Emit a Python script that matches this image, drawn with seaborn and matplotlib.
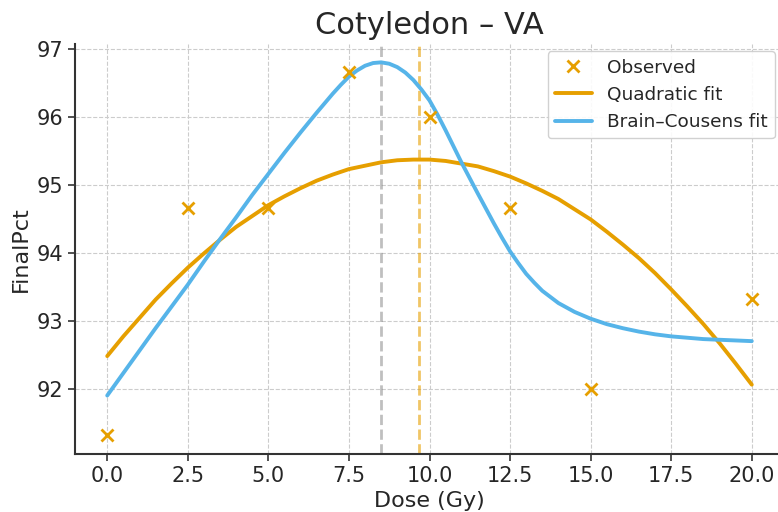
import matplotlib
matplotlib.use("Agg")
import matplotlib.pyplot as plt
import seaborn as sns
import pandas as pd

# Observed data
dose = [0.0, 2.5, 5.0, 7.5, 10.0, 12.5, 15.0, 20.0]
final_pct = [91.33, 94.67, 94.67, 96.67, 96.00, 94.67, 92.00, 93.33]

# Quadratic fit curve
quad_x = [0, 0.5, 1, 1.5, 2, 2.5, 3, 3.5, 4, 4.5, 5, 5.5, 6, 6.5, 7, 7.5, 8, 8.5,
          9, 9.5, 10, 10.5, 11, 11.5, 12, 12.5, 13, 13.5, 14, 14.5, 15, 15.5, 16,
          16.5, 17, 17.5, 18, 18.5, 19, 19.5, 20]
quad_y = [92.49, 92.78, 93.05, 93.32, 93.56, 93.79, 94.00, 94.20, 94.39, 94.55,
          94.71, 94.84, 94.96, 95.07, 95.16, 95.24, 95.29, 95.34, 95.37, 95.38,
          95.38, 95.36, 95.32, 95.28, 95.21, 95.13, 95.03, 94.92, 94.80, 94.65,
          94.50, 94.32, 94.13, 93.93, 93.71, 93.47, 93.22, 92.96, 92.68, 92.38, 92.07]

# Brain–Cousens fit curve
bc_x = [0, 0.5, 1, 1.5, 2, 2.5, 3, 3.5, 4, 4.5, 5, 5.5, 6, 6.5, 6.75, 7, 7.25,
        7.5, 7.75, 8, 8.25, 8.5, 8.75, 9, 9.25, 9.5, 9.75, 10, 10.25, 10.5,
        10.75, 11, 11.5, 12, 12.25, 12.5, 12.75, 13, 13.25, 13.5, 14, 14.5, 15,
        15.5, 16, 16.5, 17, 17.5, 18, 18.5, 19, 19.5, 20]
bc_y = [91.91, 92.24, 92.57, 92.90, 93.22, 93.54, 93.88, 94.21, 94.53, 94.86,
        95.17, 95.48, 95.78, 96.07, 96.21, 96.35, 96.48, 96.60, 96.69, 96.76,
        96.80, 96.81, 96.79, 96.74, 96.66, 96.55, 96.41, 96.25, 96.04, 95.81,
        95.57, 95.33, 94.88, 94.44, 94.23, 94.03, 93.86, 93.70, 93.57, 93.45,
        93.27, 93.14, 93.04, 92.96, 92.90, 92.85, 92.81, 92.78, 92.76, 92.74,
        92.73, 92.72, 92.71]

# Optimum markers
bc_opt = 8.5
quad_opt = 9.66

ORANGE = "#E69F00"
BLUE = "#56B4E9"

sns.set_style("whitegrid", {"grid.linestyle": "--", "grid.color": "#cccccc",
                            "axes.edgecolor": "#333333"})
plt.rcParams["font.family"] = ["DejaVu Sans"]
plt.rcParams["xtick.bottom"] = True
plt.rcParams["ytick.left"] = True
plt.rcParams["xtick.color"] = "#333333"
plt.rcParams["ytick.color"] = "#333333"
plt.rcParams["xtick.labelcolor"] = "#262626"
plt.rcParams["ytick.labelcolor"] = "#262626"

fig = plt.figure(figsize=(7.78, 5.12), dpi=100)
ax = fig.add_axes([75 / 778, 58 / 512, (784 - 75) / 778, (454 - 44) / 512])

obs_df = pd.DataFrame({"Dose": dose, "FinalPct": final_pct})
quad_df = pd.DataFrame({"Dose": quad_x, "FinalPct": quad_y})
bc_df = pd.DataFrame({"Dose": bc_x, "FinalPct": bc_y})

ax.plot(obs_df["Dose"], obs_df["FinalPct"], linestyle="none", marker="x",
        markersize=8, markeredgewidth=2, color=ORANGE, label="Observed", zorder=4)
sns.lineplot(data=quad_df, x="Dose", y="FinalPct", ax=ax, color=ORANGE,
             linewidth=2.8, label="Quadratic fit", zorder=3)
sns.lineplot(data=bc_df, x="Dose", y="FinalPct", ax=ax, color=BLUE,
             linewidth=2.8, label="Brain\u2013Cousens fit", zorder=3)

ax.axvline(bc_opt, color="gray", linestyle="--", linewidth=2, alpha=0.5, zorder=2)
ax.axvline(quad_opt, color=ORANGE, linestyle="--", linewidth=2, alpha=0.6, zorder=2)

ax.set_xticks([0, 2.5, 5, 7.5, 10, 12.5, 15, 17.5, 20])
ax.set_xticklabels(["0.0", "2.5", "5.0", "7.5", "10.0", "12.5", "15.0", "17.5", "20.0"])
ax.set_yticks([92, 93, 94, 95, 96, 97])
ax.set_xlim(-1.0, 21.0)
ax.set_ylim(91.05, 97.08)
ax.tick_params(axis="both", labelsize=15, length=5, width=1.2)

for s in ["top", "right"]:
    ax.spines[s].set_visible(False)
for s in ["left", "bottom"]:
    ax.spines[s].set_linewidth(1.5)

ax.set_xlabel("Dose (Gy)", fontsize=16, color="#262626")
ax.set_ylabel("FinalPct", fontsize=16, color="#262626")
ax.set_title("Cotyledon \u2013 VA", fontsize=22, color="#262626", pad=7)

leg = ax.legend(loc="upper right", bbox_to_anchor=(1.0, 1.005), fontsize=13.3,
                frameon=True, framealpha=0.9, edgecolor="#cccccc", fancybox=True,
                borderaxespad=0.5)

fig.savefig("out.png", dpi=100)
